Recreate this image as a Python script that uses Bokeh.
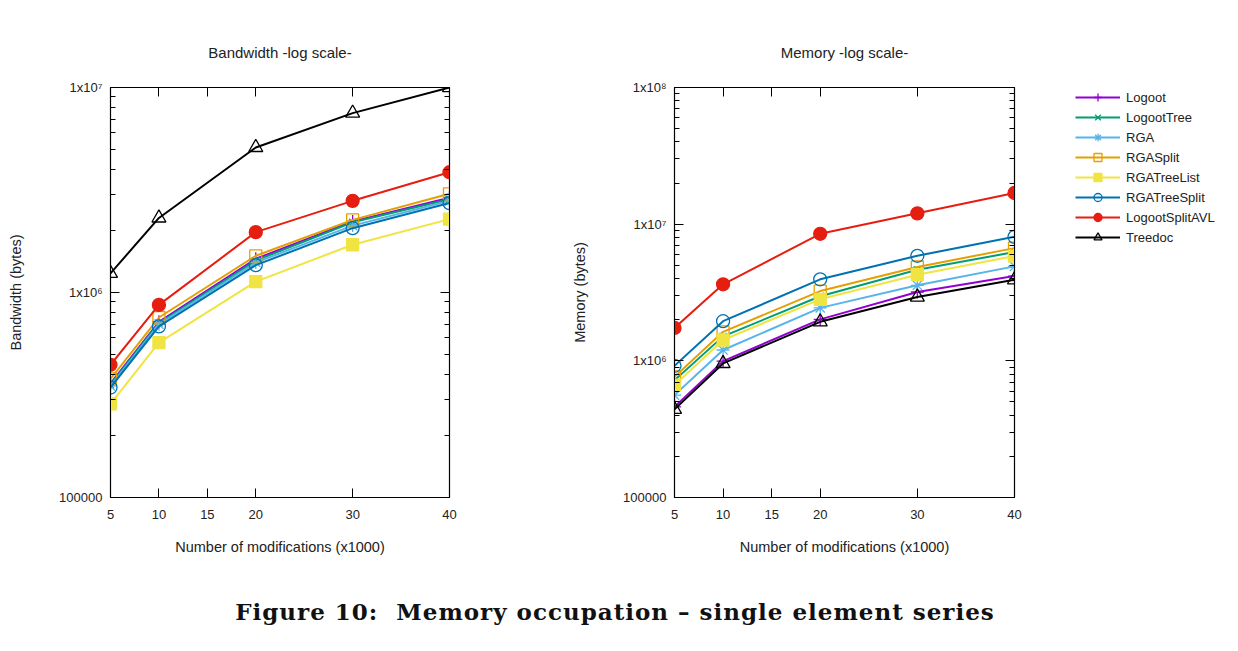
from bokeh.plotting import figure
from bokeh.models import (FixedTicker, CustomJSTickFormatter, LinearAxis, LogAxis,
                          Legend, LegendItem, Div, Range1d)
from bokeh.layouts import row, column
from bokeh.embed import file_html
from bokeh.resources import INLINE

# ---------------- data ----------------
modifications = [5, 10, 20, 30, 40]
series_names = ["Logoot", "LogootTree", "RGA", "RGASplit", "RGATreeList",
                "RGATreeSplit", "LogootSplitAVL", "Treedoc"]

bandwidth_logoot = [3.60e5, 7.20e5, 1.46e6, 2.22e6, 2.90e6]
bandwidth_logoottree = [3.55e5, 7.10e5, 1.43e6, 2.20e6, 2.85e6]
bandwidth_rga = [3.50e5, 7.00e5, 1.40e6, 2.12e6, 2.80e6]
bandwidth_rgasplit = [3.79e5, 7.55e5, 1.51e6, 2.26e6, 3.03e6]
bandwidth_rgatreelist = [2.86e5, 5.70e5, 1.13e6, 1.71e6, 2.28e6]
bandwidth_rgatreesplit = [3.44e5, 6.83e5, 1.36e6, 2.06e6, 2.73e6]
bandwidth_logootsplitavl = [4.44e5, 8.70e5, 1.97e6, 2.80e6, 3.86e6]
bandwidth_treedoc = [1.24e6, 2.31e6, 5.10e6, 7.50e6, 1.00e7]

memory_logoot = [4.61e5, 9.95e5, 2.01e6, 3.19e6, 4.17e6]
memory_logoottree = [7.20e5, 1.51e6, 2.97e6, 4.64e6, 6.25e6]
memory_rga = [5.61e5, 1.20e6, 2.44e6, 3.57e6, 4.91e6]
memory_rgasplit = [7.64e5, 1.63e6, 3.24e6, 4.86e6, 6.68e6]
memory_rgatreelist = [6.64e5, 1.42e6, 2.82e6, 4.27e6, 5.84e6]
memory_rgatreesplit = [9.20e5, 1.95e6, 3.95e6, 5.87e6, 8.08e6]
memory_logootsplitavl = [1.74e6, 3.63e6, 8.50e6, 1.20e7, 1.69e7]
memory_treedoc = [4.42e5, 9.57e5, 1.93e6, 2.93e6, 3.92e6]

x_ticks = [5, 10, 15, 20, 30, 40]
bw_yticks = [1e5, 1e6, 1e7]
bw_ytick_labels = ["100000", "1x10\u2076", "1x10\u2077"]
mem_yticks = [1e5, 1e6, 1e7, 1e8]
mem_ytick_labels = ["100000", "1x10\u2076", "1x10\u2077", "1x10\u2078"]

bandwidth = [bandwidth_logoot, bandwidth_logoottree, bandwidth_rga, bandwidth_rgasplit,
             bandwidth_rgatreelist, bandwidth_rgatreesplit, bandwidth_logootsplitavl,
             bandwidth_treedoc]
memory = [memory_logoot, memory_logoottree, memory_rga, memory_rgasplit,
          memory_rgatreelist, memory_rgatreesplit, memory_logootsplitavl, memory_treedoc]

# ---------------- styles ----------------
colors = ["#9400d3", "#009e73", "#56b4e9", "#e69f00", "#f0e442", "#0072b2", "#e51e10", "#000000"]
markers = ["cross", "x", "asterisk", "square", "square", "circle", "circle", "triangle"]
filled = [False, False, False, False, True, False, True, False]
sizes = [13, 10, 13, 12, 12, 13, 13, 14]

FONT = "Liberation Sans"
TXT = "#222222"


def minor_ticks(lo_exp, hi_exp):
    out = []
    for e in range(lo_exp, hi_exp):
        for k in range(2, 10):
            out.append(k * 10 ** e)
    return out


def add_series(p, ys):
    items = []
    for name, y, c, m, f, s in zip(series_names, ys, colors, markers, filled, sizes):
        lr = p.line(modifications, y, line_color=c, line_width=2)
        sr = p.scatter(modifications, y, marker=m, size=s, line_color=c, line_width=1.3,
                       fill_color=c if f else None)
        items.append(LegendItem(label=name, renderers=[lr, sr]))
    return items


def make_fig(title, ylabel, ys, yticks, ylabels, ymax_exp, width, left, right):
    p = figure(width=width, height=568, y_axis_type="log",
               x_range=Range1d(5, 40), y_range=Range1d(1e5, 10 ** ymax_exp),
               output_backend="svg", toolbar_location=None,
               min_border_left=left, min_border_right=right,
               min_border_top=87, min_border_bottom=71,
               title=title)
    p.title.align = "center"
    p.title.text_font = FONT
    p.title.text_font_size = "15px"
    p.title.text_font_style = "normal"
    p.title.text_color = TXT
    p.title.standoff = 54
    p.xgrid.visible = False
    p.ygrid.visible = False
    p.outline_line_color = "black"
    p.outline_line_width = 1.2
    p.background_fill_color = "white"
    p.border_fill_color = "white"

    yt = FixedTicker(ticks=yticks, minor_ticks=minor_ticks(5, ymax_exp))
    xt = FixedTicker(ticks=x_ticks, minor_ticks=[])
    yfmt = CustomJSTickFormatter(args=dict(vals=yticks, labs=ylabels), code="""
        for (let i = 0; i < vals.length; i++) {
            if (Math.abs(Math.log10(vals[i]) - Math.log10(tick)) < 1e-6) return labs[i];
        }
        return "";
    """)

    xaxis = p.below[0]
    yaxis = p.left[0]
    xaxis.ticker = xt
    yaxis.ticker = yt
    yaxis.formatter = yfmt

    top_ax = LinearAxis(ticker=xt, formatter=CustomJSTickFormatter(code="return ''"),
                        major_label_standoff=0)
    right_ax = LogAxis(ticker=yt, formatter=CustomJSTickFormatter(code="return ''"),
                       major_label_standoff=0)
    p.add_layout(top_ax, "above")
    p.add_layout(right_ax, "right")

    for ax in [xaxis, yaxis, top_ax, right_ax]:
        ax.major_tick_in = 9
        ax.major_tick_out = 0
        ax.minor_tick_in = 5
        ax.minor_tick_out = 0
        ax.axis_line_color = "black"
        ax.major_tick_line_color = "black"
        ax.minor_tick_line_color = "black"
        ax.major_label_text_font = FONT
        ax.major_label_text_font_size = "13px"
        ax.major_label_text_color = TXT
        ax.axis_label_text_font = FONT
        ax.axis_label_text_font_size = "14.5px"
        ax.axis_label_text_font_style = "normal"
        ax.axis_label_text_color = TXT

    xaxis.axis_label = "Number of modifications (x1000)"
    xaxis.major_label_standoff = 12
    xaxis.axis_label_standoff = 17
    yaxis.axis_label = ylabel
    yaxis.major_label_standoff = 8
    yaxis.axis_label_standoff = 32

    items = add_series(p, ys)
    return p, items


p1, _ = make_fig("Bandwidth -log scale-", "Bandwidth (bytes)", bandwidth,
                 bw_yticks, bw_ytick_labels, 7, 568, 110, 119)
p2, _ = make_fig("Memory -log scale-", "Memory (bytes)", memory,
                 mem_yticks, mem_ytick_labels, 8, 466, 106, 20)

# legend panel: same series drawn off-view, only the key is visible
lf = figure(width=200, height=568, x_range=Range1d(0, 1), y_range=Range1d(0, 1),
            output_backend="svg", toolbar_location=None,
            min_border_left=0, min_border_right=0, min_border_top=0, min_border_bottom=0)
lf.axis.visible = False
lf.xgrid.visible = False
lf.ygrid.visible = False
lf.outline_line_color = None
lf.background_fill_color = "white"
lf.border_fill_color = "white"
items = add_series(lf, memory)
legend = Legend(items=items, location=(41, 250), spacing=0, glyph_height=20, label_height=20,
                glyph_width=45, padding=0, margin=0, label_standoff=6,
                label_text_font=FONT, label_text_font_size="13px", label_text_color=TXT,
                border_line_alpha=0, background_fill_alpha=0)
lf.add_layout(legend, "center")

caption = Div(text="Figure 10:&nbsp; Memory occupation \u2013 single element series",
              width=1230, margin=(28, 0, 0, 0),
              styles={"text-align": "center", "font-family": "DejaVu Serif",
                      "font-weight": "bold", "font-size": "23px", "letter-spacing": "1px",
                      "color": "#111111"})

layout = column(row(p1, p2, lf), caption)
open("out.html", "w").write(file_html(layout, INLINE))
